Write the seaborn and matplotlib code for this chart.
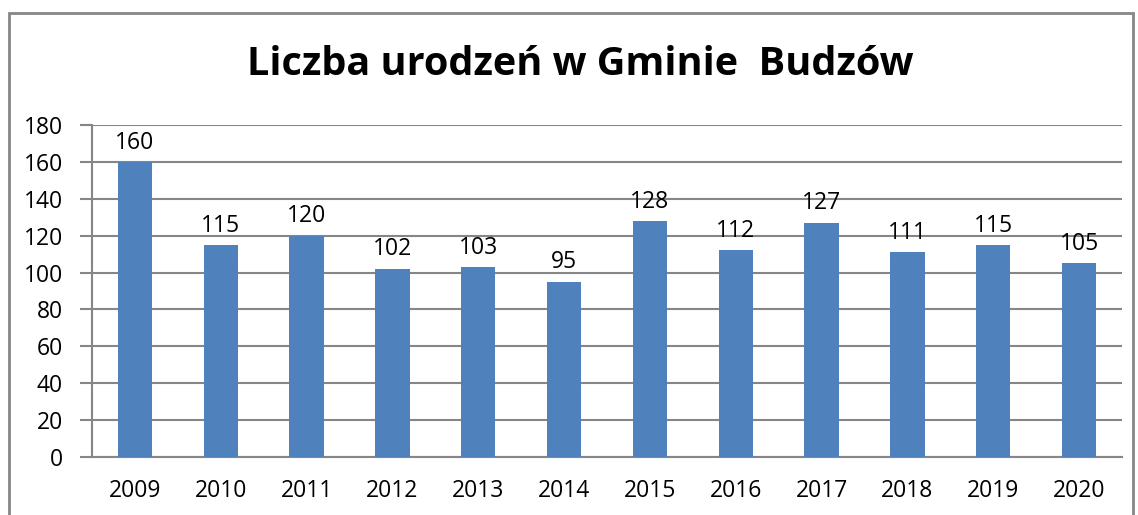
import matplotlib
matplotlib.use("Agg")
import matplotlib.pyplot as plt
import seaborn as sns
import pandas as pd
from matplotlib.patches import Rectangle

years = ["2009", "2010", "2011", "2012", "2013", "2014", "2015", "2016", "2017", "2018", "2019", "2020"]
births = [160, 115, 120, 102, 103, 95, 128, 112, 127, 111, 115, 105]
title = "Liczba urodzeń w Gminie  Budzów"

sns.set_theme(style="white")
plt.rcParams['font.family'] = ['Open Sans', 'DejaVu Sans']

df = pd.DataFrame({"rok": years, "urodzenia": births})

W, H = 1138, 515
fig = plt.figure(figsize=(W / 100, H / 100), dpi=100)
ax = fig.add_axes([92 / W, 1 - 457 / H, (1122 - 92) / W, (457 - 125) / H])

sns.barplot(data=df, x="rok", y="urodzenia", color="#4F81BD", width=0.4,
            saturation=1, ax=ax, zorder=3, linewidth=0, edgecolor="none")

ax.set_ylim(0, 180)
ax.set_xlim(-0.5, len(years) - 0.5)
ax.set_yticks(range(0, 181, 20))
ax.yaxis.grid(True, color="#868686", linewidth=1.5, zorder=0)
ax.set_axisbelow(True)
ax.set_xlabel("")
ax.set_ylabel("")

for s in ["top", "right"]:
    ax.spines[s].set_visible(False)
for s in ["left", "bottom"]:
    ax.spines[s].set_color("#868686")
    ax.spines[s].set_linewidth(1.5)

# x ticks at category boundaries
ax.set_xticks([i - 0.5 for i in range(len(years) + 1)], minor=True)
ax.tick_params(axis="x", which="minor", length=8, width=1.5, color="#868686", direction="out")
ax.tick_params(axis="x", which="major", length=0, labelsize=16.5, pad=16, colors="black")
ax.tick_params(axis="y", which="major", left=True, length=9, width=1.5, color="#868686",
               labelsize=16.5, pad=12, labelcolor="black")

for i, v in enumerate(births):
    ax.text(i, v + 4, str(v), ha="center", va="bottom", fontsize=16.5, color="black", zorder=4)

fig.text(580 / W, 1 - 65 / H, title, ha="center", va="center", fontsize=28.5,
         fontweight="bold", color="black")

fig.patches.append(Rectangle((9 / W, -0.1), (1133 - 9) / W, 1.1 - 13 / H,
                             transform=fig.transFigure, fill=False,
                             edgecolor="#868686", linewidth=2))

fig.savefig("out.png", dpi=100, facecolor="white")
